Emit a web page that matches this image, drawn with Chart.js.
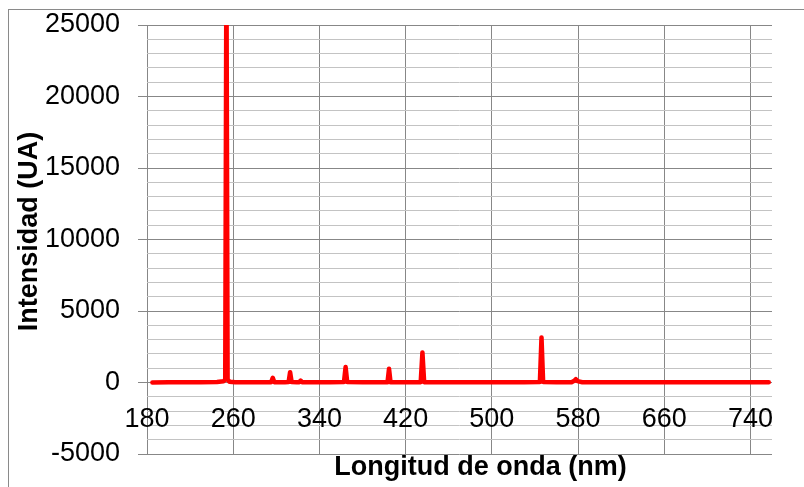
<!DOCTYPE html>
<html>
<head>
<meta charset="utf-8">
<script src="https://cdn.jsdelivr.net/npm/chart.js@4"></script>
<style>
  html, body { margin: 0; padding: 0; background: #fff; }
  #wrap { position: relative; width: 804px; height: 487px; overflow: hidden; }
  #frame { position: absolute; left: 8px; top: 9px; width: 900px; height: 600px; border: 1.5px solid #8a8a8a; }
  #canvas { position: absolute; left: 0; top: 0; }
</style>
</head>
<body>
<div id="wrap">
  <div id="frame"></div>
  <canvas id="canvas" width="804" height="487"></canvas>
</div>
<script>
    // spectrum (nm, UA)
    const wavelength = [
      185, 200, 215, 230, 245, 251, 252.6, 253.7, 254.8, 256.5,
      262, 275, 290, 295.2, 296.7, 298.2, 308, 311.4, 312.8, 314.2,
      319, 321.2, 322.6, 324, 335, 350, 362.8, 364.3, 365.8, 380,
      395, 403.2, 404.6, 406, 420, 434, 435.6, 437.2, 455, 480,
      505, 530, 544.6, 546.1, 547.6, 560, 574, 576.5, 578, 579.5,
      584, 600, 630, 660, 690, 720, 757
    ];
    const intensity = [
      0, 10, 20, 10, 30, 80, 220, 30000, 200, 60,
      20, 15, 10, 20, 330, 20, 10, 30, 720, 40,
      20, 15, 130, 20, 10, 15, 30, 1080, 30, 10,
      15, 20, 960, 25, 10, 20, 2100, 20, 10, 15,
      10, 20, 30, 3150, 40, 20, 20, 120, 230, 100,
      20, 10, 15, 10, 15, 10, 20
    ];
    const xTicks = [180, 260, 340, 420, 500, 580, 660, 740];
    const yMin = -5000, yMax = 25000, yMajor = 5000, yMinor = 1000;

    const tickFont = { family: "'Liberation Sans', Arial", size: 27 };
    const titleFont = { family: "'Liberation Sans', Arial", size: 27, weight: 'bold' };
    const majorGrid = '#878787';
    const minorGrid = '#c3c3c3';

    const points = wavelength.map((w, i) => ({ x: w, y: intensity[i] }));

    // x axis labels sit under the y=0 line, titles nudged like the original
    const placeAxes = {
      id: 'placeAxes',
      afterLayout(chart) {
        const x = chart.scales.x, y = chart.scales.y;
        x.top = y.getPixelForValue(0);
        x.left += 21; x.right += 21;
        y.top -= 8; y.bottom -= 8;
      }
    };

    const ctx = document.getElementById('canvas').getContext('2d');
    new Chart(ctx, {
      type: 'line',
      data: {
        datasets: [{
          data: points,
          borderColor: '#ff0000',
          borderWidth: 4.5,
          borderCapStyle: 'round',
          borderJoinStyle: 'round',
          pointRadius: 0,
          tension: 0,
          clip: 0
        }]
      },
      options: {
        responsive: false,
        animation: false,
        devicePixelRatio: 1,
        layout: { padding: { left: 0, top: 25, right: 32, bottom: 0 } },
        plugins: { legend: { display: false }, tooltip: { enabled: false } },
        scales: {
          x: {
            type: 'linear',
            min: 180,
            max: 760,
            clip: false,
            afterBuildTicks: s => { s.ticks = xTicks.map(v => ({ value: v })); },
            afterFit: s => { s.height = 33; s.paddingLeft = 0; s.paddingRight = 0; },
            ticks: { color: '#000', font: tickFont, padding: 21, maxRotation: 0, autoSkip: false },
            grid: { color: majorGrid, lineWidth: 1, drawTicks: false },
            border: { display: false },
            title: { display: true, text: 'Longitud de onda (nm)', color: '#000', font: titleFont, padding: { top: 0, bottom: 3 } }
          },
          y: {
            min: yMin,
            max: yMax,
            clip: false,
            afterFit: s => { s.width = 147; s.paddingTop = 0; s.paddingBottom = 0; },
            ticks: {
              stepSize: yMinor,
              autoSkip: false,
              color: '#000',
              font: tickFont,
              padding: 18,
              callback: v => (v % yMajor === 0 ? String(v) : '')
            },
            grid: {
              lineWidth: 1,
              tickLength: 9,
              color: c => (c.tick && c.tick.value % yMajor === 0 ? majorGrid : minorGrid),
              tickColor: c => (c.tick && c.tick.value % yMajor === 0 ? majorGrid : 'rgba(0,0,0,0)')
            },
            border: { display: false },
            title: { display: true, text: 'Intensidad (UA)', color: '#000', font: titleFont, padding: { top: 13, bottom: 0 } }
          }
        }
      },
      plugins: [placeAxes]
    });
</script>
</body>
</html>
